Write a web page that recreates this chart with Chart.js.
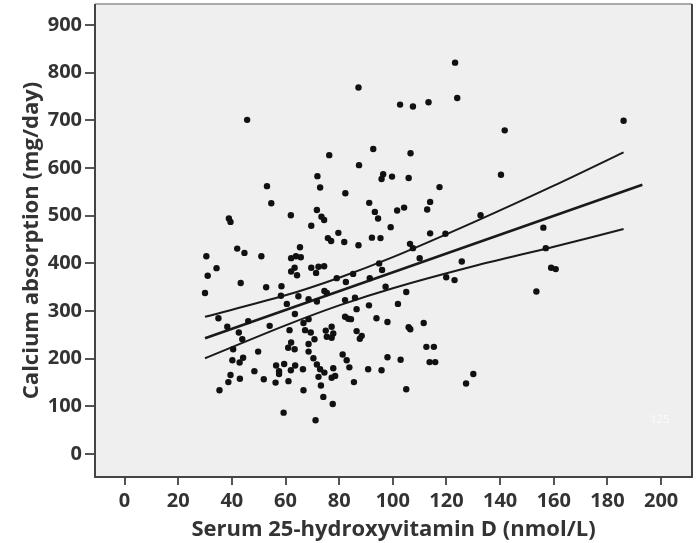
<!DOCTYPE html>
<html>
<head>
<meta charset="utf-8">
<script src="https://cdn.jsdelivr.net/npm/chart.js@4"></script>
<style>
  html, body { margin: 0; padding: 0; background: #ffffff; }
  #chart { display: block; }
</style>
</head>
<body>
<canvas id="chart" width="696" height="543"></canvas>
<script>
// Serum 25(OH)D (nmol/L) vs calcium absorption (mg/day)
const vitD = [
  45.7, 76.3, 87.2, 123.2, 102.7, 107.5, 113.3, 124.0, 141.7, 92.7, 106.6, 186.0,
  87.4, 71.9, 72.9, 53.1, 82.3, 54.7, 71.7, 62.0, 38.9, 39.5, 73.4, 74.4, 69.6,
  79.7, 75.8, 77.0, 81.9, 87.2, 65.4, 42.0, 44.7, 51.0, 30.5, 62.1, 63.9, 65.7,
  34.3, 31.0, 63.4, 62.1, 64.3, 69.6, 72.3, 74.4, 71.4, 43.3, 30.0, 52.8, 58.5,
  79.1, 85.2, 82.5, 58.3, 64.8, 74.5, 75.4, 68.6, 71.7, 60.5, 82.2, 85.9, 86.5,
  96.4, 95.8, 99.7, 105.9, 140.3, 117.4, 91.2, 113.9, 93.3, 94.5, 101.6, 104.2,
  112.8, 99.2, 92.2, 95.4, 113.9, 119.6, 132.7, 106.4, 107.5, 110.0, 125.7, 94.9,
  96.0, 91.4, 119.9, 123.0, 97.3, 105.0, 153.5, 101.9, 91.1, 156.1, 157.0, 159.0,
  160.7, 35.0, 46.1, 38.3, 42.6, 54.1, 43.9, 40.5, 40.2, 42.9, 44.2, 39.5, 38.7,
  43.0, 35.4, 49.8, 48.4, 51.9, 56.5, 59.5, 57.6, 57.6, 56.3, 61.1, 62.0, 63.6,
  66.5, 66.7, 61.5, 62.1, 61.0, 63.4, 63.5, 66.7, 68.6, 67.3, 69.4, 68.6, 70.8,
  68.6, 70.4, 71.7, 72.9, 74.5, 72.3, 77.2, 77.8, 78.5, 73.2, 74.1, 77.6, 59.3,
  71.2, 75.0, 77.2, 77.8, 75.4, 77.2, 82.2, 83.4, 84.4, 86.5, 81.3, 82.8, 83.8,
  85.5, 93.9, 98.0, 105.9, 106.5, 111.5, 88.4, 87.7, 112.5, 115.3, 98.0, 102.9,
  113.7, 115.8, 90.8, 95.8, 130.0, 127.3, 105.0
];
const calcium = [
  701, 627, 769, 821, 733, 729, 738, 747, 679, 640, 631, 699,
  606, 583, 559, 562, 547, 526, 512, 501, 494, 487, 498, 491, 479,
  464, 453, 447, 445, 438, 434, 431, 422, 415, 415, 411, 415, 413,
  390, 374, 391, 383, 375, 391, 393, 394, 380, 359, 338, 350, 352,
  369, 378, 361, 332, 331, 342, 338, 325, 320, 315, 323, 328, 304,
  587, 577, 582, 579, 586, 560, 527, 529, 508, 494, 511, 517,
  513, 476, 454, 453, 463, 462, 501, 441, 432, 411, 404, 400,
  386, 369, 371, 365, 351, 340, 341, 315, 312, 475, 432, 391,
  388, 285, 279, 267, 255, 269, 241, 220, 197, 192, 202, 166, 151,
  158, 134, 215, 174, 157, 186, 189, 174, 168, 150, 153, 176, 186,
  178, 134, 260, 234, 223, 220, 294, 275, 283, 260, 255, 231, 241,
  215, 201, 188, 178, 171, 162, 160, 180, 164, 144, 120, 105, 87,
  71, 259, 267, 253, 246, 244, 288, 284, 283, 258, 209, 197, 182,
  151, 285, 277, 266, 262, 275, 248, 242, 225, 225, 203, 198,
  193, 193, 178, 176, 168, 148, 136
];

// fit line and 95% CI of the mean
const fitX = [30, 193];
const fitY = [243, 565];
const bandX = [30, 60, 80, 100, 130, 160, 186];
const bandUpper = [288, 333, 370, 413, 486, 563, 633];
const bandLower = [201, 270, 312, 348, 394, 435, 472];

const xTicks = [0, 20, 40, 60, 80, 100, 120, 140, 160, 180, 200];
const yTicks = [0, 100, 200, 300, 400, 500, 600, 700, 800, 900];

const toPts = (xs, ys) => xs.map((x, i) => ({ x: x, y: ys[i] }));

const FONT = '"Open Sans", "DejaVu Sans", sans-serif';
const INK = '#333333';

const plotFrame = {
  id: 'plotFrame',
  beforeDraw(chart) {
    const { ctx, chartArea: a } = chart;
    ctx.save();
    ctx.fillStyle = '#efefef';
    ctx.fillRect(a.left, a.top, a.right - a.left, a.bottom - a.top);
    ctx.restore();
  },
  afterDraw(chart) {
    const { ctx, chartArea: a } = chart;
    ctx.save();
    ctx.lineWidth = 2;
    ctx.strokeStyle = '#aaaaaa';
    ctx.beginPath();
    ctx.moveTo(a.left, a.top);
    ctx.lineTo(a.right, a.top);
    ctx.stroke();
    ctx.strokeStyle = '#444444';
    ctx.beginPath();
    ctx.moveTo(a.left, a.top);
    ctx.lineTo(a.left, a.bottom);
    ctx.lineTo(a.right, a.bottom);
    ctx.lineTo(a.right, a.top);
    ctx.stroke();
    // faint label in the corner
    ctx.fillStyle = '#fbfbfb';
    ctx.font = '11px ' + FONT;
    ctx.textAlign = 'center';
    ctx.textBaseline = 'middle';
    ctx.fillText('125', 660, 420);
    ctx.restore();
  }
};

new Chart(document.getElementById('chart'), {
  type: 'scatter',
  data: {
    datasets: [
      {
        label: 'Observed',
        data: toPts(vitD, calcium),
        pointRadius: 3.2,
        pointBackgroundColor: '#111111',
        pointBorderWidth: 0
      },
      {
        label: 'Fit',
        data: toPts(fitX, fitY),
        showLine: true,
        pointRadius: 0,
        borderColor: '#1a1a1a',
        borderWidth: 2.8
      },
      {
        label: 'Upper 95% CI',
        data: toPts(bandX, bandUpper),
        showLine: true,
        pointRadius: 0,
        borderColor: '#1a1a1a',
        borderWidth: 2,
        tension: 0.3
      },
      {
        label: 'Lower 95% CI',
        data: toPts(bandX, bandLower),
        showLine: true,
        pointRadius: 0,
        borderColor: '#1a1a1a',
        borderWidth: 2,
        tension: 0.3
      }
    ]
  },
  options: {
    responsive: false,
    devicePixelRatio: 1,
    animation: false,
    layout: { padding: { top: 4, right: 2, left: 0, bottom: 0 } },
    plugins: {
      legend: { display: false },
      tooltip: { enabled: false }
    },
    scales: {
      x: {
        type: 'linear',
        min: -11,
        max: 211.5,
        afterBuildTicks: (s) => { s.ticks = xTicks.map(v => ({ value: v })); },
        afterFit: (s) => { s.height = 66; s.paddingLeft = 0; s.paddingRight = 0; },
        border: { display: false },
        grid: { drawOnChartArea: false, drawTicks: true, tickLength: 8, color: '#555555', lineWidth: 2 },
        ticks: { color: INK, font: { family: FONT, size: 20, weight: 'bold' }, padding: 4, maxRotation: 0 },
        title: {
          display: true,
          text: 'Serum 25-hydroxyvitamin D (nmol/L)',
          color: INK,
          font: { family: FONT, size: 22, weight: 'bold' },
          padding: { top: 0, bottom: 0 }
        }
      },
      y: {
        type: 'linear',
        min: -48,
        max: 944,
        afterBuildTicks: (s) => { s.ticks = yTicks.map(v => ({ value: v })); },
        afterFit: (s) => { s.width = 95; s.paddingTop = 0; s.paddingBottom = 0; },
        border: { display: false },
        grid: { drawOnChartArea: false, drawTicks: true, tickLength: 10, color: '#555555', lineWidth: 2 },
        ticks: { color: INK, font: { family: FONT, size: 20, weight: 'bold' }, padding: 3 },
        title: {
          display: true,
          text: 'Calcium absorption (mg/day)',
          color: INK,
          font: { family: FONT, size: 22, weight: 'bold' },
          padding: { top: 19, bottom: 0 }
        }
      }
    }
  },
  plugins: [plotFrame]
});
</script>
</body>
</html>
